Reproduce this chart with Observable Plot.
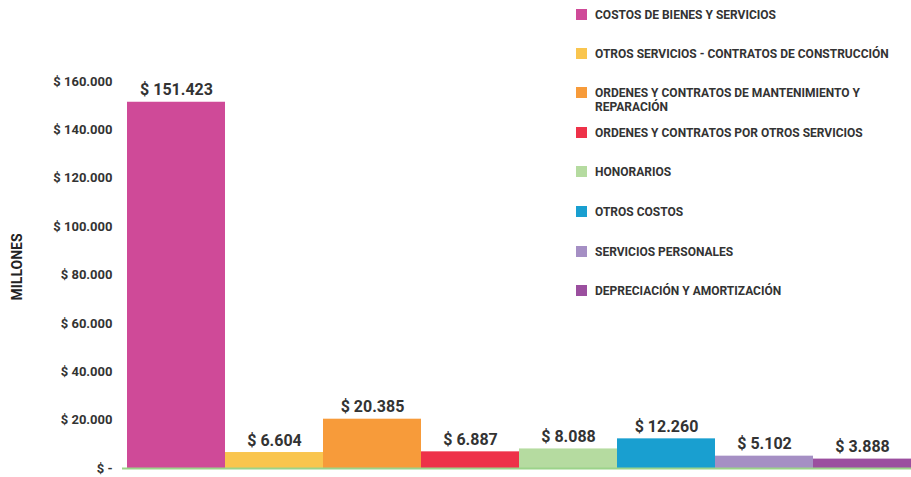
<!DOCTYPE html>
<html>
<head>
<meta charset="utf-8">
<script src="https://cdn.jsdelivr.net/npm/d3@7"></script>
<script src="https://cdn.jsdelivr.net/npm/@observablehq/plot@0.6"></script>
<style>
  html, body { margin: 0; padding: 0; background: #fff; }
  #wrap { position: relative; width: 911px; height: 477px; font-family: Roboto, "Noto Sans", sans-serif; }
  #legend { position: absolute; left: 576px; top: 0; width: 335px; }
  .item { position: absolute; left: 0; display: flex; align-items: flex-start; font-size: 12px; font-weight: 700; color: #333; line-height: 14px; }
  .sw { width: 11px; height: 11px; margin-right: 8px; flex: none; margin-top: 1px; }
  .tx { white-space: pre; }
</style>
</head>
<body>
<div id="wrap"><div id="legend"></div></div>
<script>
const categories = [
  "COSTOS DE BIENES Y SERVICIOS",
  "OTROS SERVICIOS - CONTRATOS DE CONSTRUCCIÓN",
  "ORDENES Y CONTRATOS DE MANTENIMIENTO Y REPARACIÓN",
  "ORDENES Y CONTRATOS POR OTROS SERVICIOS",
  "HONORARIOS",
  "OTROS COSTOS",
  "SERVICIOS PERSONALES",
  "DEPRECIACIÓN Y AMORTIZACIÓN"
];
const legendLabels = [
  "COSTOS DE BIENES Y SERVICIOS",
  "OTROS SERVICIOS - CONTRATOS DE CONSTRUCCIÓN",
  "ORDENES Y CONTRATOS DE MANTENIMIENTO Y\nREPARACIÓN",
  "ORDENES Y CONTRATOS POR OTROS SERVICIOS",
  "HONORARIOS",
  "OTROS COSTOS",
  "SERVICIOS PERSONALES",
  "DEPRECIACIÓN Y AMORTIZACIÓN"
];
const values = [151423, 6604, 20385, 6887, 8088, 12260, 5102, 3888];
const colors = ["#CF4A98", "#F9C54E", "#F79B3A", "#EE3249", "#B5DBA0", "#199FD0", "#A58FC4", "#9B4F9F"];
const yTicks = [0, 20000, 40000, 60000, 80000, 100000, 120000, 140000, 160000];
const legendTops = [8, 47, 86, 126, 165, 205, 245, 284];

const data = categories.map((c, i) => ({category: c, value: values[i]}));
const fmt = v => v === 0 ? "$ -" : "$ " + d3.format(",")(v).replace(/,/g, ".");

const chart = Plot.plot({
  width: 911,
  height: 477,
  marginLeft: 127,
  marginRight: 0,
  marginTop: 81,
  marginBottom: 9,
  style: {fontFamily: "Roboto, 'Noto Sans', sans-serif", color: "#333", background: "#fff"},
  x: {domain: categories, padding: 0, axis: null},
  y: {domain: [0, 160000], ticks: yTicks, tickFormat: fmt, tickSize: 0, tickPadding: 15, label: null},
  color: {domain: categories, range: colors},
  marks: [
    Plot.axisY({ticks: yTicks, tickFormat: fmt, tickSize: 0, tickPadding: 15, fontSize: 13, fontWeight: 700, fill: "#333", label: null}),
    Plot.barY(data, {x: "category", y: "value", fill: "category"}),
    Plot.ruleY([0], {stroke: "#9BD38A", strokeWidth: 2, insetLeft: -5}),
    Plot.text(data, {x: "category", y: "value", text: d => fmt(d.value), dy: -12, fontSize: 16, fontWeight: 700, fill: "#333"})
  ]
});
const wrap = document.getElementById("wrap");
wrap.insertBefore(chart, wrap.firstChild);

// Y axis title
const svg = d3.select(chart);
svg.append("text")
  .attr("transform", "translate(18,267) rotate(-90)")
  .attr("text-anchor", "middle")
  .attr("dominant-baseline", "middle")
  .attr("font-size", 14)
  .attr("font-weight", 700)
  .attr("fill", "#222")
  .text("MILLONES");

const legend = document.getElementById("legend");
legendLabels.forEach((c, i) => {
  const it = document.createElement("div");
  it.className = "item";
  it.style.top = legendTops[i] + "px";
  const sw = document.createElement("div");
  sw.className = "sw";
  sw.style.background = colors[i];
  const t = document.createElement("div");
  t.className = "tx";
  t.textContent = c;
  it.appendChild(sw); it.appendChild(t);
  legend.appendChild(it);
});
</script>
</body>
</html>
